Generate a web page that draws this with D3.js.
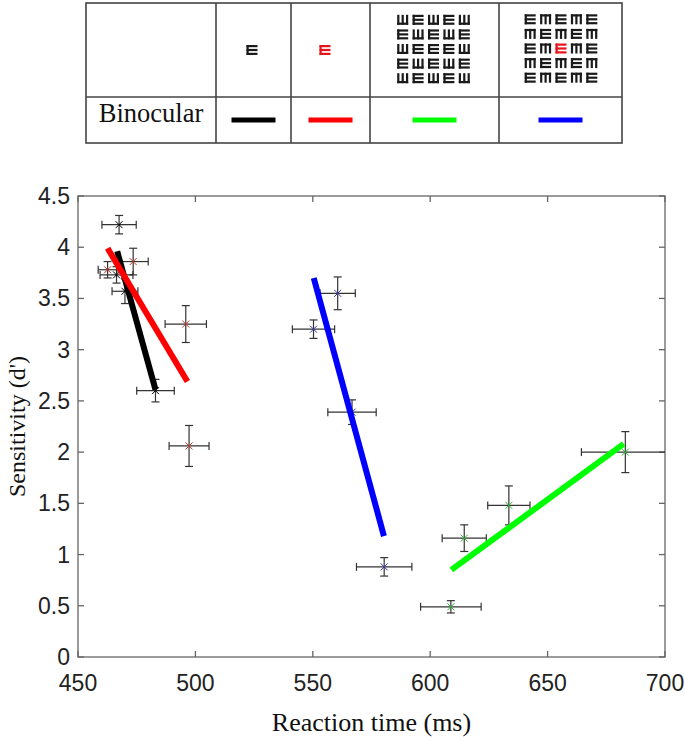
<!DOCTYPE html>
<html>
<head>
<meta charset="utf-8">
<script src="https://cdn.jsdelivr.net/npm/d3@7"></script>
<style>
body{margin:0;background:#fff}
</style>
</head>
<body>
<div id="chart"></div>
<script>
// table content
var rowLabel = "Binocular"
var lineColors = ["#000000", "#ff0000", "#00ff00", "#0000ff"]
// E = prongs right, W = prongs up, M = prongs down, R = red E
var singleGrid = ["E"]
var singleRedGrid = ["R"]
var flankGrid = ["WEWEW", "EWEWE", "WEEEW", "EWEWE", "WEWEW"]
var flankRedGrid = ["EMEME", "MEMEM", "EMRME", "MEMEM", "EMEME"]

// black: single E
var blackRT = [467.5, 466.4, 470.0, 483.0]
var blackRTerr = [7.3, 7.0, 5.5, 8.0]
var blackD = [4.22, 3.73, 3.57, 2.60]
var blackDerr = [0.09, 0.08, 0.12, 0.11]
var blackFitRT = [466.7, 483.0]
var blackFitD = [3.96, 2.61]

// red: single red E
var redRT = [462.6, 473.5, 495.9, 497.3]
var redRTerr = [4.0, 6.4, 8.8, 8.5]
var redD = [3.78, 3.86, 3.25, 2.06]
var redDerr = [0.08, 0.13, 0.18, 0.20]
var redFitRT = [462.6, 496.6]
var redFitD = [3.99, 2.69]

// green: flanked E
var greenRT = [608.8, 614.5, 633.5, 683.1]
var greenRTerr = [12.9, 9.4, 9.0, 18.7]
var greenD = [0.49, 1.16, 1.48, 2.00]
var greenDerr = [0.06, 0.13, 0.19, 0.20]
var greenFitRT = [609.0, 682.4]
var greenFitD = [0.85, 2.08]

// blue: flanked red E
var blueRT = [560.6, 550.3, 566.7, 580.4]
var blueRTerr = [7.5, 9.0, 10.3, 11.8]
var blueD = [3.55, 3.20, 2.39, 0.88]
var blueDerr = [0.16, 0.09, 0.12, 0.09]
var blueFitRT = [550.4, 580.3]
var blueFitD = [3.70, 1.18]

var xTicks = [450, 500, 550, 600, 650, 700]
var yTicks = [0, 0.5, 1, 1.5, 2, 2.5, 3, 3.5, 4, 4.5]

var width = 685, height = 744
var svg = d3.select("#chart").append("svg").attr("width", width).attr("height", height)

//---- table
var colX = [86, 216, 291, 370, 499, 622]
var rowY = [3, 97, 143]
var tbl = svg.append("g").attr("class", "table")
tbl.append("rect").attr("x", colX[0]).attr("y", rowY[0])
	.attr("width", colX[5] - colX[0]).attr("height", rowY[2] - rowY[0])
	.attr("fill", "none").attr("stroke", "#444").attr("stroke-width", 1.6)
colX.slice(1, 5).forEach(function(x) {
	tbl.append("line").attr("x1", x).attr("x2", x).attr("y1", rowY[0]).attr("y2", rowY[2])
		.attr("stroke", "#444").attr("stroke-width", 1.6)
})
tbl.append("line").attr("x1", colX[0]).attr("x2", colX[5]).attr("y1", rowY[1]).attr("y2", rowY[1])
	.attr("stroke", "#444").attr("stroke-width", 1.6)

tbl.append("text").text(rowLabel)
	.attr("x", (colX[0] + colX[1]) / 2).attr("y", 122)
	.attr("text-anchor", "middle")
	.style("font-family", "Liberation Serif").style("font-size", "26.5px").attr("fill", "#111")

lineColors.forEach(function(c, i) {
	var cx = (colX[i + 1] + colX[i + 2]) / 2
	tbl.append("line").attr("x1", cx - 22).attr("x2", cx + 22).attr("y1", 120).attr("y2", 120)
		.attr("stroke", c).attr("stroke-width", 5)
})

// one tumbling E glyph
function glyph(g, x0, y0, w, h, type) {
	var t = 2.2
	var fill = type == "R" ? "#e8141b" : "#1a1a1a"
	if (type == "E" || type == "R") {
		g.append("rect").attr("x", x0).attr("y", y0).attr("width", t).attr("height", h).attr("fill", fill)
		for (var k = 0; k < 3; k++)
			g.append("rect").attr("x", x0).attr("y", y0 + k * (h - t) / 2).attr("width", w).attr("height", t).attr("fill", fill)
	} else {
		var by = type == "W" ? y0 + h - t : y0
		g.append("rect").attr("x", x0).attr("y", by).attr("width", w).attr("height", t).attr("fill", fill)
		for (var k = 0; k < 3; k++)
			g.append("rect").attr("x", x0 + k * (w - t) / 2).attr("y", y0).attr("width", t).attr("height", h).attr("fill", fill)
	}
}

function drawGrid(grid, cx, cy) {
	var gw = 11, gh = 10, px = 15.4, py = 14.6
	var cols = grid[0].length, rows = grid.length
	var left = cx - ((cols - 1) * px + gw) / 2
	var top = cy - ((rows - 1) * py + gh) / 2
	grid.forEach(function(row, r) {
		row.split("").forEach(function(ch, c) {
			glyph(tbl, left + c * px, top + r * py, gw, gh, ch)
		})
	})
}
drawGrid(singleGrid, 252, 50)
drawGrid(singleRedGrid, 325, 50)
drawGrid(flankGrid, 433.5, 49)
drawGrid(flankRedGrid, 561, 48.5)

//---- plot
var x = d3.scaleLinear().domain([450, 700]).range([78, 665])
var y = d3.scaleLinear().domain([0, 4.5]).range([657, 196])
var axisColor = "#666"

var plot = svg.append("g").attr("class", "plot")
plot.append("rect").attr("x", x(450)).attr("y", y(4.5))
	.attr("width", x(700) - x(450)).attr("height", y(0) - y(4.5))
	.attr("fill", "none").attr("stroke", axisColor).attr("stroke-width", 1.3)

// inward ticks on all four sides
xTicks.forEach(function(t) {
	plot.append("line").attr("x1", x(t)).attr("x2", x(t)).attr("y1", y(0)).attr("y2", y(0) - 6).attr("stroke", axisColor).attr("stroke-width", 1.3)
	plot.append("line").attr("x1", x(t)).attr("x2", x(t)).attr("y1", y(4.5)).attr("y2", y(4.5) + 6).attr("stroke", axisColor).attr("stroke-width", 1.3)
	plot.append("text").text(t).attr("x", x(t)).attr("y", y(0) + 34)
		.attr("text-anchor", "middle").style("font-family", "Liberation Sans").style("font-size", "23px").attr("fill", "#222")
})
yTicks.forEach(function(t) {
	plot.append("line").attr("x1", x(450)).attr("x2", x(450) + 6).attr("y1", y(t)).attr("y2", y(t)).attr("stroke", axisColor).attr("stroke-width", 1.3)
	plot.append("line").attr("x1", x(700)).attr("x2", x(700) - 6).attr("y1", y(t)).attr("y2", y(t)).attr("stroke", axisColor).attr("stroke-width", 1.3)
	plot.append("text").text(t).attr("x", x(450) - 8).attr("y", y(t) + 8)
		.attr("text-anchor", "end").style("font-family", "Liberation Sans").style("font-size", "23px").attr("fill", "#222")
})

svg.append("text").text("Reaction time (ms)")
	.attr("x", (x(450) + x(700)) / 2).attr("y", 731).attr("text-anchor", "middle")
	.style("font-family", "Liberation Serif").style("font-size", "26px").attr("fill", "#111")
svg.append("text").text("Sensitivity (d')")
	.attr("transform", "translate(25," + (y(0) + y(4.5)) / 2 + ") rotate(-90)").attr("text-anchor", "middle")
	.style("font-family", "Liberation Serif").style("font-size", "24px").attr("fill", "#111")

svg.append("clipPath").attr("id", "clip").append("rect")
	.attr("x", x(450)).attr("y", y(4.5)).attr("width", x(700) - x(450)).attr("height", y(0) - y(4.5))

var series = [
	{rt: blackRT, rtErr: blackRTerr, d: blackD, dErr: blackDerr, fitRT: blackFitRT, fitD: blackFitD, color: "#000000", mark: "#000000"},
	{rt: redRT, rtErr: redRTerr, d: redD, dErr: redDerr, fitRT: redFitRT, fitD: redFitD, color: "#ff0000", mark: "#c0392b"},
	{rt: greenRT, rtErr: greenRTerr, d: greenD, dErr: greenDerr, fitRT: greenFitRT, fitD: greenFitD, color: "#00ff00", mark: "#2db82d"},
	{rt: blueRT, rtErr: blueRTerr, d: blueD, dErr: blueDerr, fitRT: blueFitRT, fitD: blueFitD, color: "#0000ff", mark: "#3a3ab0"}
]

var pts = svg.append("g").attr("clip-path", "url(#clip)")
var cap = 4
series.forEach(function(s) {
	s.rt.forEach(function(rt, i) {
		var px = x(rt), py = y(s.d[i])
		var x1 = x(rt - s.rtErr[i]), x2 = x(rt + s.rtErr[i])
		var y1 = y(s.d[i] - s.dErr[i]), y2 = y(s.d[i] + s.dErr[i])
		var g = pts.append("g").attr("stroke", "#333").attr("stroke-width", 1.2)
		g.append("line").attr("x1", x1).attr("x2", x2).attr("y1", py).attr("y2", py)
		g.append("line").attr("x1", x1).attr("x2", x1).attr("y1", py - cap).attr("y2", py + cap)
		g.append("line").attr("x1", x2).attr("x2", x2).attr("y1", py - cap).attr("y2", py + cap)
		g.append("line").attr("x1", px).attr("x2", px).attr("y1", y1).attr("y2", y2)
		g.append("line").attr("x1", px - cap).attr("x2", px + cap).attr("y1", y1).attr("y2", y1)
		g.append("line").attr("x1", px - cap).attr("x2", px + cap).attr("y1", y2).attr("y2", y2)
		// x marker
		var m = pts.append("g").attr("stroke", s.mark).attr("stroke-width", 1)
		m.append("line").attr("x1", px - 3.5).attr("x2", px + 3.5).attr("y1", py - 3.5).attr("y2", py + 3.5)
		m.append("line").attr("x1", px - 3.5).attr("x2", px + 3.5).attr("y1", py + 3.5).attr("y2", py - 3.5)
	})
})

// regression lines on top
series.forEach(function(s) {
	pts.append("line")
		.attr("x1", x(s.fitRT[0])).attr("y1", y(s.fitD[0]))
		.attr("x2", x(s.fitRT[1])).attr("y2", y(s.fitD[1]))
		.attr("stroke", s.color).attr("stroke-width", 6)
})
</script>
</body>
</html>
